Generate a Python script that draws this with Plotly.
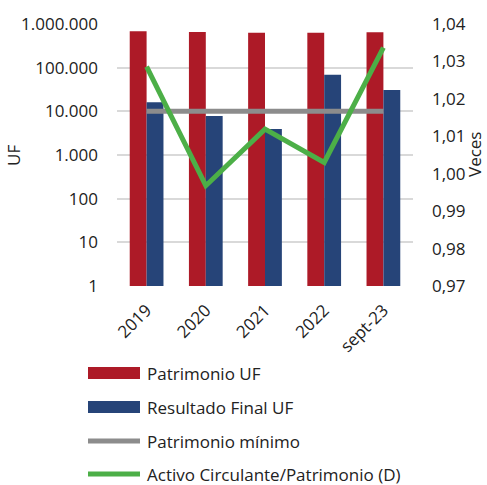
import plotly.graph_objects as go

categories = ["2019", "2020", "2021", "2022", "sept-23"]
patrimonio_uf = [680000, 656000, 630000, 630000, 645000]
resultado_final_uf = [16100, 7850, 3960, 69000, 30900]
patrimonio_minimo = [10000, 10000, 10000, 10000, 10000]
activo_circ_patrimonio = [1.0286, 0.9968, 1.0119, 1.0030, 1.0337]
left_ticks = [1, 10, 100, 1000, 10000, 100000, 1000000]
left_ticktext = ["1", "10", "100", "1.000", "10.000", "100.000", "1.000.000"]
right_ticks = [0.97, 0.98, 0.99, 1.00, 1.01, 1.02, 1.03, 1.04]

RED = "#AD1A27"
BLUE = "#264478"
GRAY = "#8C8C8C"
GREEN = "#4CAF47"
FONT = "Open Sans"
FS = 17

fig = go.Figure()
fig.add_trace(go.Bar(x=categories, y=patrimonio_uf, name="Patrimonio UF",
                     marker=dict(color=RED, line=dict(width=0))))
fig.add_trace(go.Bar(x=categories, y=resultado_final_uf, name="Resultado Final UF",
                     marker=dict(color=BLUE, line=dict(width=0))))
fig.add_trace(go.Scatter(x=categories, y=patrimonio_minimo, name="Patrimonio mínimo",
                         mode="lines", line=dict(color=GRAY, width=5)))
fig.add_trace(go.Scatter(x=categories, y=activo_circ_patrimonio, yaxis="y2",
                         name="Activo Circulante/Patrimonio (D)",
                         mode="lines", line=dict(color=GREEN, width=5)))

W, H = 487, 485
L, R, T, B = 117, 74, 24, 199
pw, ph = W - L - R, H - T - B


def px(xp):
    return (xp - L) / pw


def py(yp):
    return (H - B - yp) / ph


shapes = []
annotations = []
legend_items = [
    ("Patrimonio UF", RED, "rect", 373),
    ("Resultado Final UF", BLUE, "rect", 407),
    ("Patrimonio mínimo", GRAY, "line", 441),
    ("Activo Circulante/Patrimonio (D)", GREEN, "line", 474),
]
for label, col, kind, yc in legend_items:
    if kind == "rect":
        shapes.append(dict(type="rect", xref="paper", yref="paper",
                           x0=px(88), x1=px(140), y0=py(yc - 6), y1=py(yc + 6),
                           fillcolor=col, line=dict(width=0)))
    else:
        shapes.append(dict(type="line", xref="paper", yref="paper",
                           x0=px(88), x1=px(140), y0=py(yc), y1=py(yc),
                           line=dict(color=col, width=5)))
    annotations.append(dict(text=label, xref="paper", yref="paper",
                            x=px(145), y=py(yc), xanchor="left", yanchor="middle",
                            showarrow=False, font=dict(family=FONT, size=FS, color="#222")))

annotations.append(dict(text="UF", xref="paper", yref="paper", x=px(13), y=py(156),
                        textangle=-90, showarrow=False, xanchor="center", yanchor="middle",
                        font=dict(family=FONT, size=FS, color="#222")))
annotations.append(dict(text="Veces", xref="paper", yref="paper", x=px(474), y=py(155),
                        textangle=-90, showarrow=False, xanchor="center", yanchor="middle",
                        font=dict(family=FONT, size=FS, color="#222")))

fig.update_layout(
    width=W, height=H,
    margin=dict(l=L, r=R, t=T, b=B, pad=0),
    paper_bgcolor="white", plot_bgcolor="white",
    separators=",.",
    barmode="group", bargap=0.43, bargroupgap=0,
    showlegend=False,
    font=dict(family=FONT, size=FS, color="#222"),
    xaxis=dict(tickangle=-45, showgrid=False, zeroline=False, showline=False,
               ticks="", ticklabelstandoff=10, tickfont=dict(size=FS)),
    yaxis=dict(type="log", range=[0, 6], tickvals=left_ticks, ticktext=left_ticktext,
               showgrid=True, gridcolor="#D9D9D9", gridwidth=1.5, zeroline=False,
               showline=False, ticks="", ticklabelstandoff=18, tickfont=dict(size=FS)),
    yaxis2=dict(overlaying="y", side="right", range=[0.97, 1.04], tickvals=right_ticks,
                tickformat=".2f", showgrid=False, zeroline=False, showline=False,
                ticks="", ticklabelstandoff=18, tickfont=dict(size=FS)),
    shapes=shapes,
    annotations=annotations,
)

fig.write_html("out.html", config={"displayModeBar": False},
               post_script="document.body.style.margin='0';document.body.style.padding='0';")
